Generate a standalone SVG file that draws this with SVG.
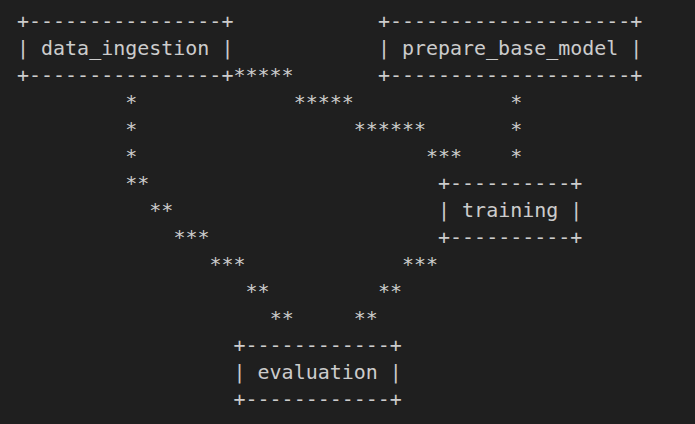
<svg xmlns="http://www.w3.org/2000/svg" width="695" height="424" viewBox="0 0 695 424">
<style>
text{font-family:"DejaVu Sans Mono","Liberation Mono",monospace;font-size:19.98px;fill:#cccccc;white-space:pre}
</style>
<rect x="0" y="0" width="695" height="424" fill="#1f1f1f"/>
<g id="node-data_ingestion">
<text x="17" y="28" xml:space="preserve">+----------------+</text>
<text x="17" y="55" xml:space="preserve">| data_ingestion |</text>
<text x="17" y="82" xml:space="preserve">+----------------+</text>
</g>
<g id="node-prepare_base_model">
<text x="377.9" y="28" xml:space="preserve">+--------------------+</text>
<text x="377.9" y="55" xml:space="preserve">| prepare_base_model |</text>
<text x="377.9" y="82" xml:space="preserve">+--------------------+</text>
</g>
<g id="node-training">
<text x="438.05" y="190" xml:space="preserve">+----------+</text>
<text x="438.05" y="217" xml:space="preserve">| training |</text>
<text x="438.05" y="244" xml:space="preserve">+----------+</text>
</g>
<g id="node-evaluation">
<text x="233.54" y="352" xml:space="preserve">+------------+</text>
<text x="233.54" y="379" xml:space="preserve">| evaluation |</text>
<text x="233.54" y="406" xml:space="preserve">+------------+</text>
</g>
<g id="connectors">
<text x="233.54" y="82">*****</text>
<text x="125.27" y="109">*</text>
<text x="293.69" y="109">*****</text>
<text x="510.23" y="109">*</text>
<text x="125.27" y="136">*</text>
<text x="353.84" y="136">******</text>
<text x="510.23" y="136">*</text>
<text x="125.27" y="163">*</text>
<text x="426.02" y="163">***</text>
<text x="510.23" y="163">*</text>
<text x="125.27" y="190">**</text>
<text x="149.33" y="217">**</text>
<text x="173.39" y="244">***</text>
<text x="209.48" y="271">***</text>
<text x="401.96" y="271">***</text>
<text x="245.57" y="298">**</text>
<text x="377.9" y="298">**</text>
<text x="269.63" y="325">**</text>
<text x="353.84" y="325">**</text>
</g>
</svg>
